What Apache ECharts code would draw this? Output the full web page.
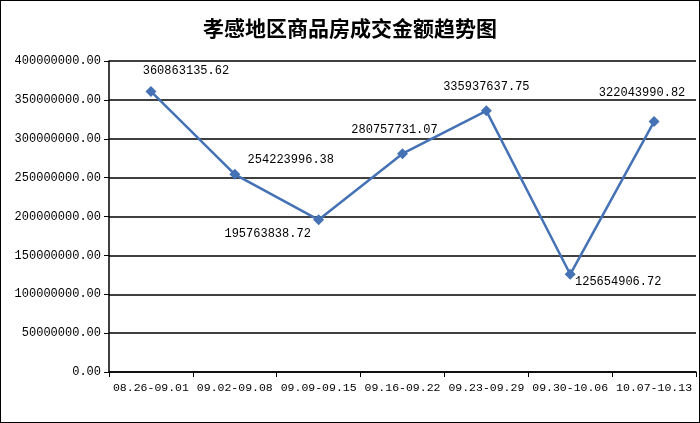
<!DOCTYPE html>
<html>
<head>
  <meta charset="utf-8">
  <script src="https://cdn.jsdelivr.net/npm/echarts@6/dist/echarts.min.js"></script>
</head>
<body style="margin:0">
<div id="main" style="width:698px;height:421px;border:1px solid #000"></div>
<script>
  var weeks = ['08.26-09.01', '09.02-09.08', '09.09-09.15', '09.16-09.22', '09.23-09.29', '09.30-10.06', '10.07-10.13'];
  var amounts = [360863135.62, 254223996.38, 195763838.72, 280757731.07, 335937637.75, 125654906.72, 322043990.82];
  // label placement per point, as in the picture
  var labelOffsets = [[35, -4], [56, 2], [-51, 31], [-8, -7], [0, -7], [48, 24], [-12, -12]];

  var chart = echarts.init(document.getElementById('main'));
  var mono = '"Liberation Mono", "DejaVu Sans Mono", monospace';

  chart.setOption({
    animation: false,
    title: {
      text: '孝感地区商品房成交金额趋势图',
      left: 'center', top: 12,
      textStyle: { fontFamily: '"Noto Sans CJK SC"', fontSize: 21, fontWeight: 'bold', color: '#000' }
    },
    grid: { left: 108, right: 3, top: 60, bottom: 50 },
    xAxis: {
      type: 'category',
      data: weeks,
      axisLine: { lineStyle: { color: '#000', width: 1.5 } },
      axisTick: { show: true, lineStyle: { color: '#000' } },
      axisLabel: { color: '#000', fontFamily: mono, fontSize: 11.5, margin: 10, interval: 0 }
    },
    yAxis: {
      type: 'value',
      min: 0, max: 400000000, interval: 50000000,
      axisLine: { show: true, lineStyle: { color: '#000', width: 1.5 } },
      axisTick: { show: true, lineStyle: { color: '#000' } },
      splitLine: { lineStyle: { color: '#000', width: 1.5 } },
      axisLabel: {
        color: '#000', fontFamily: mono, fontSize: 12, margin: 8,
        formatter: function (v) { return v.toFixed(2); }
      }
    },
    series: [{
      type: 'line',
      data: amounts.map(function (v, i) {
        return { value: v, label: { offset: labelOffsets[i] } };
      }),
      symbol: 'diamond',
      symbolSize: 11,
      lineStyle: { color: '#4472b4', width: 2.5 },
      itemStyle: { color: '#4472b4' },
      label: {
        show: true, position: 'top', color: '#000',
        fontFamily: mono, fontSize: 12,
        formatter: function (p) { return p.value.toFixed(2); }
      }
    }]
  });
</script>
</body>
</html>
